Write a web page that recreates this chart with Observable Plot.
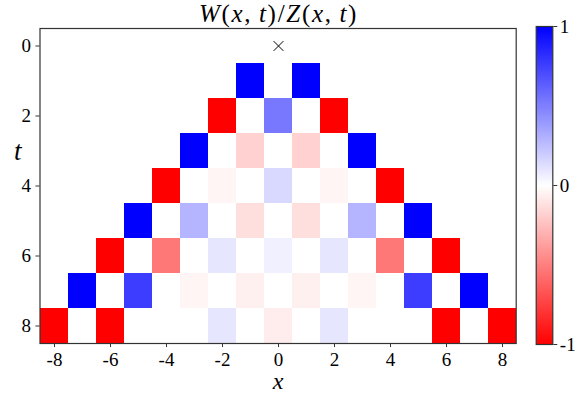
<!DOCTYPE html>
<html>
<head>
<meta charset="utf-8">
<script src="https://cdn.jsdelivr.net/npm/d3@7"></script>
<script src="https://cdn.jsdelivr.net/npm/@observablehq/plot@0.6"></script>
<style>
  html, body { margin: 0; padding: 0; background: white; }
  #wrap { position: relative; width: 577px; height: 402px; }
  #wrap svg { position: absolute; left: 0; top: 0; }
  #wrap svg text { font-family: "Liberation Serif", serif !important; }
</style>
</head>
<body>
<div id="wrap"></div>
<script>
// Categories
const xs = [-8, -7, -6, -5, -4, -3, -2, -1, 0, 1, 2, 3, 4, 5, 6, 7, 8];
const ts = [0, 1, 2, 3, 4, 5, 6, 7, 8];
// Tick labels
const xTicks = [-8, -6, -4, -2, 0, 2, 4, 6, 8];
const tTicks = [0, 2, 4, 6, 8];
const cbTicks = [-1, 0, 1];
// Values W/Z per row t (columns x = -8..8)
const row0 = [0, 0, 0, 0, 0, 0, 0, 0, 0, 0, 0, 0, 0, 0, 0, 0, 0];
const row1 = [0, 0, 0, 0, 0, 0, 0, 1, 0, 1, 0, 0, 0, 0, 0, 0, 0];
const row2 = [0, 0, 0, 0, 0, 0, -1, 0, 0.53, 0, -1, 0, 0, 0, 0, 0, 0];
const row3 = [0, 0, 0, 0, 0, 1, 0, -0.18, 0, -0.18, 0, 1, 0, 0, 0, 0, 0];
const row4 = [0, 0, 0, 0, -1, 0, -0.04, 0, 0.15, 0, -0.04, 0, -1, 0, 0, 0, 0];
const row5 = [0, 0, 0, 1, 0, 0.29, 0, -0.13, 0, -0.13, 0, 0.29, 0, 1, 0, 0, 0];
const row6 = [0, 0, -1, 0, -0.53, 0, 0.1, 0, 0.06, 0, 0.1, 0, -0.53, 0, -1, 0, 0];
const row7 = [0, 1, 0, 0.76, 0, -0.04, 0, -0.06, 0, -0.06, 0, -0.04, 0, 0.76, 0, 1, 0];
const row8 = [-1, 0, -1, 0, 0, 0, 0.1, 0, -0.07, 0, 0.1, 0, 0, 0, -1, 0, -1];
const rows = [row0, row1, row2, row3, row4, row5, row6, row7, row8];
// Marker point
const marker = [{x: 0, t: 0}];

const cells = [];
rows.forEach((r, i) => r.forEach((v, j) => cells.push({x: xs[j], t: ts[i], v})));

const colorScale = {type: "linear", domain: [-1, 0, 1], range: ["#ff0000", "#ffffff", "#0000ff"], interpolate: "rgb"};
const font = "Liberation Serif";
const fmt = d => String(d);

const main = Plot.plot({
  width: 577, height: 402,
  marginLeft: 39.5, marginRight: 61.3, marginTop: 28, marginBottom: 59,
  style: {fontFamily: font, fontSize: "19px", color: "black", background: "white"},
  x: {type: "band", domain: xs, padding: 0},
  y: {type: "band", domain: ts, padding: 0},
  color: colorScale,
  marks: [
    Plot.cell(cells, {x: "x", y: "t", fill: "v"}),
    Plot.dot(marker, {x: "x", y: "t", symbol: "times", r: 4.5, stroke: "black", strokeWidth: 1}),
    Plot.frame({stroke: "#333", strokeWidth: 1.2}),
    Plot.axisX({ticks: xTicks, tickFormat: fmt, tickSize: 4, tickPadding: 5, label: null, fontSize: 19, fontFamily: font, stroke: "#333"}),
    Plot.axisY({ticks: tTicks, tickFormat: fmt, tickSize: 4, tickPadding: 5, label: null, fontSize: 19, fontFamily: font, stroke: "#333"}),
    Plot.text(["x"], {frameAnchor: "bottom", dy: 45, fontStyle: "italic", fontSize: 24, fontFamily: font}),
    Plot.text(["t"], {frameAnchor: "left", dx: -26, dy: -35, fontStyle: "italic", fontSize: 27, fontFamily: font})
  ]
});

const cbar = Plot.plot({
  width: 577, height: 402,
  marginLeft: 535.7, marginRight: 24.7, marginTop: 26, marginBottom: 58,
  style: {fontFamily: font, fontSize: "19px", color: "black", background: "transparent"},
  x: {domain: [0, 1], axis: null},
  y: {domain: [-1, 1]},
  color: colorScale,
  marks: [
    Plot.raster({fill: (x, y) => y, x1: 0, x2: 1, y1: -1, y2: 1, width: 2, height: 256, imageRendering: "auto"}),
    Plot.frame({stroke: "#333", strokeWidth: 1.2}),
    Plot.axisY({anchor: "right", ticks: cbTicks, tickFormat: fmt, tickSize: 4, tickPadding: 3, label: null, fontSize: 19, fontFamily: font, stroke: "#333"})
  ]
});

const wrap = document.getElementById("wrap");
wrap.appendChild(main);
wrap.appendChild(cbar);

// Title with mixed italic (math) and upright glyphs
const title = d3.select(main).append("text")
  .attr("x", 278.5).attr("y", 22)
  .attr("text-anchor", "middle")
  .attr("font-family", font)
  .attr("font-size", 25)
  .attr("letter-spacing", 1.7)
  .attr("fill", "black");
const parts = [["W", 1], ["(", 0], ["x", 1], [",\u2009", 0], ["t", 1], [")", 0], ["/", 0], ["Z", 1], ["(", 0], ["x", 1], [",\u2009", 0], ["t", 1], [")", 0]];
parts.forEach(([s, it]) => title.append("tspan").text(s).attr("font-style", it ? "italic" : "normal"));
</script>
</body>
</html>
